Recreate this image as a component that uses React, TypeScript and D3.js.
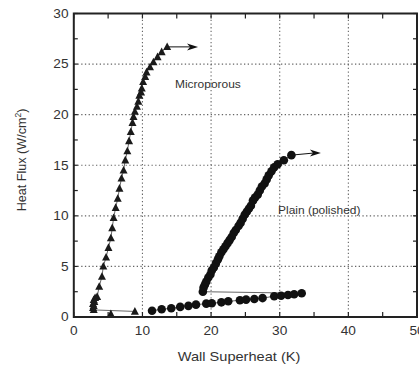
import * as d3 from 'd3'

// Microporous surface (triangles)
const microStrayX = [5.4]
const microStrayY = [0.3]
const microX = [8.9, 2.9, 2.8, 2.9, 2.8, 3.0, 2.9, 3.1, 3.4, 3.7, 4.1, 4.3, 4.7, 5.05, 5.4, 5.6, 5.8, 6.1, 6.4, 6.65, 6.95, 7.25, 7.5, 7.8, 8.05, 8.3, 8.55, 8.7, 8.9, 9.2, 9.4, 9.55, 9.8, 9.9, 10.1, 10.4, 10.6, 11.1, 11.6, 12.2, 12.8, 13.6]
const microY = [0.55, 0.7, 0.9, 1.1, 1.3, 1.5, 1.7, 1.9, 2.0, 3.0, 4.0, 5.0, 5.9, 6.85, 7.8, 8.8, 9.8, 10.8, 11.7, 12.7, 13.7, 14.5, 15.5, 16.4, 17.4, 18.3, 19.2, 19.8, 20.3, 20.8, 21.3, 21.9, 22.2, 22.6, 23.25, 23.75, 24.2, 24.7, 25.2, 25.7, 26.2, 26.7]

// Plain (polished) surface (circles)
const plainX = [11.4, 12.8, 14.2, 15.5, 16.7, 17.8, 19.3, 20.1, 21.5, 22.5, 24.2, 25.1, 26.3, 27.5, 29.2, 30.2, 31.2, 32.1, 33.2,
  18.8, 18.9, 19.1, 19.3, 19.6, 19.9, 20.1, 20.4, 20.7, 21.0, 21.2, 21.5, 21.8, 22.1, 22.4, 22.7, 23.0, 23.3, 23.6, 24.0, 24.3, 24.6, 24.9, 25.2, 25.5, 25.8, 26.1, 26.4, 26.8, 27.1, 27.4, 27.8, 28.1, 28.4, 28.8, 29.2, 29.7, 30.6, 31.7]
const plainY = [0.62, 0.76, 0.86, 1.0, 1.1, 1.22, 1.32, 1.36, 1.45, 1.55, 1.65, 1.72, 1.78, 1.87, 2.05, 2.1, 2.17, 2.25, 2.35,
  2.5, 2.9, 3.2, 3.5, 3.9, 4.2, 4.6, 4.9, 5.3, 5.7, 6.0, 6.4, 6.7, 7.0, 7.3, 7.6, 7.9, 8.3, 8.6, 9.0, 9.3, 9.7, 10.1, 10.4, 10.7, 11.0, 11.5, 11.8, 12.1, 12.5, 12.9, 13.2, 13.6, 14.0, 14.4, 14.8, 15.1, 15.5, 16.0]

// arrow tips (critical heat flux not reached)
const arrowX = [18.1, 36.0]
const arrowY = [26.7, 16.2]

const xTicks = [0, 10, 20, 30, 40, 50]
const yTicks = [0, 5, 10, 15, 20, 25, 30]
const xGrid = [10, 20, 30, 40]
const yGrid = [5, 10, 15, 20, 25]

const W = 419
const H = 365
const font = '"Liberation Sans", Arial, sans-serif'
const stretch = 1.14

export default function App() {
  const x = d3.scaleLinear().domain([0, 50]).range([73.8, 417])
  const y = d3.scaleLinear().domain([0, 30]).range([317, 13.5])
  const [x0, x1] = x.range()
  const [y0, y1] = y.range()

  const micro = microX.map((v, i) => [x(v), y(microY[i])] as [number, number])
  const plain = plainX.map((v, i) => [x(v), y(plainY[i])] as [number, number])
  const line = d3.line()

  const tri = (cx: number, cy: number, s = 8) =>
    `M${cx},${cy - s * 0.55}L${cx + s / 2},${cy + s * 0.4}L${cx - s / 2},${cy + s * 0.4}Z`

  const xMinor = d3.range(0, 50.01, 5)
  const yMinor = d3.range(0, 30.01, 2.5)

  const starts = [micro[micro.length - 1], plain[plain.length - 1]]

  const hText = (tx: number, ty: number, s: string, anchor: string, size: number) => (
    <text transform={`translate(${tx},${ty}) scale(${stretch},1)`} textAnchor={anchor}
      fontSize={size} fontFamily={font} fill="#333">{s}</text>
  )

  return (
    <svg width={W} height={H} style={{ position: 'absolute', left: 0, top: 0, background: '#fff' }}>
      {/* grid */}
      {xGrid.map(v => (
        <line key={'gx' + v} x1={x(v)} x2={x(v)} y1={y0} y2={y1} stroke="#666" strokeWidth={1.1} strokeDasharray="1.3,2.4" />
      ))}
      {yGrid.map(v => (
        <line key={'gy' + v} x1={x0} x2={x1} y1={y(v)} y2={y(v)} stroke="#666" strokeWidth={1.1} strokeDasharray="1.3,2.4" />
      ))}

      {/* ticks, pointing inward */}
      {xMinor.map(v => (
        <g key={'tx' + v}>
          <line x1={x(v)} x2={x(v)} y1={y0} y2={y0 - 5} stroke="#222" strokeWidth={1.2} />
          <line x1={x(v)} x2={x(v)} y1={y1} y2={y1 + 5} stroke="#222" strokeWidth={1.2} />
        </g>
      ))}
      {yMinor.map(v => (
        <g key={'ty' + v}>
          <line x1={x0} x2={x0 + 4} y1={y(v)} y2={y(v)} stroke="#222" strokeWidth={1.2} />
          <line x1={x1} x2={x1 - 4} y1={y(v)} y2={y(v)} stroke="#222" strokeWidth={1.2} />
        </g>
      ))}

      {/* series lines */}
      <path d={line(micro) || ''} fill="none" stroke="#555" strokeWidth={0.9} />
      <path d={line(plain) || ''} fill="none" stroke="#555" strokeWidth={0.9} />

      {/* arrows */}
      {starts.map((p, i) => {
        const ex = x(arrowX[i])
        const ey = y(arrowY[i])
        return (
          <g key={'ar' + i}>
            <line x1={p[0]} y1={p[1]} x2={ex - 8} y2={ey} stroke="#111" strokeWidth={1} />
            <path d={`M${ex},${ey}L${ex - 11},${ey - 3.5}L${ex - 8},${ey}L${ex - 11},${ey + 3.5}Z`} fill="#111" />
          </g>
        )
      })}

      {/* markers */}
      {micro.map((p, i) => <path key={'m' + i} d={tri(p[0], p[1])} fill="#1a1a1a" />)}
      {microStrayX.map((v, i) => <path key={'ms' + i} d={tri(x(v), y(microStrayY[i]))} fill="#1a1a1a" />)}
      {plain.map((p, i) => <circle key={'p' + i} cx={p[0]} cy={p[1]} r={4.3} fill="#111" />)}

      {/* frame */}
      <rect x={x0} y={y1} width={x1 - x0} height={y0 - y1} fill="none" stroke="#222" strokeWidth={2} />

      {/* tick labels */}
      {xTicks.map(v => <g key={'lx' + v}>{hText(x(v), 334.5, String(v), 'middle', 12)}</g>)}
      {yTicks.map(v => <g key={'ly' + v}>{hText(68.5, y(v) + 4.3, String(v), 'end', 12)}</g>)}

      {/* annotations */}
      {hText(175, 88, 'Microporous', 'start', 10.5)}
      {hText(278, 214, 'Plain (polished)', 'start', 10.5)}

      {/* axis titles */}
      {hText(239, 361, 'Wall Superheat (K)', 'middle', 12.8)}
      <text transform="translate(26,160) rotate(-90)" textAnchor="middle" fontSize={12.6} fontFamily={font} fill="#333">
        Heat Flux (W/cm<tspan dy={-5} fontSize={8.5}>2</tspan><tspan dy={5}>)</tspan>
      </text>
    </svg>
  )
}
